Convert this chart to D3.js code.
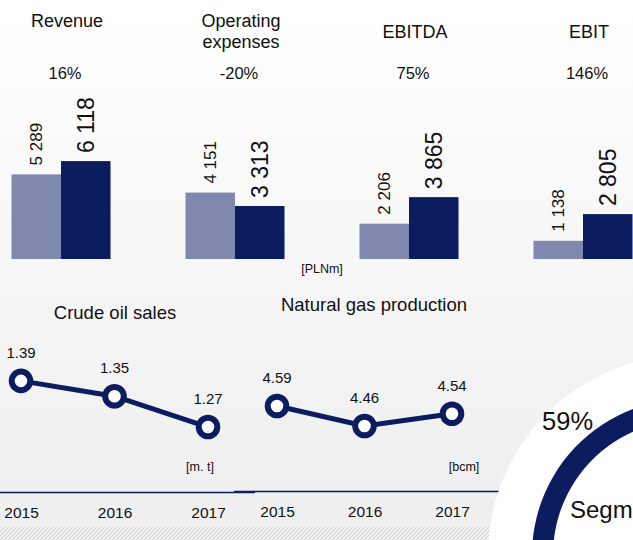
<!DOCTYPE html>
<html>
<head>
<meta charset="utf-8">
<script src="https://cdn.jsdelivr.net/npm/d3@7"></script>
<style>
  body { margin: 0; background: #ffffff; }
  svg { display: block; font-family: "Liberation Sans", Arial, sans-serif; }
</style>
</head>
<body>
<div id="chart"></div>
<script>
// data
const categories = ["Revenue", "Operating expenses", "EBITDA", "EBIT"];
const titleLines = [["Revenue"], ["Operating", "expenses"], ["EBITDA"], ["EBIT"]];
const barYears = ["2016", "2017"];
const values2016 = [5289, 4151, 2206, 1138];
const values2017 = [6118, 3313, 3865, 2805];
const changeLabels = ["16%", "-20%", "75%", "146%"];
const lineYears = ["2015", "2016", "2017"];
const oilSales = [1.39, 1.35, 1.27];
const gasProduction = [4.59, 4.46, 4.54];
const segmentShare = [59, 41];

const W = 633, H = 540;
const navy = "#0b1c5f", light = "#8088ad", textCol = "#111111";

const svg = d3.select("#chart").append("svg")
    .attr("width", W)
    .attr("height", H);

const defs = svg.append("defs");
const grad = defs.append("linearGradient").attr("id", "bg")
    .attr("x1", 0).attr("y1", 0).attr("x2", 0).attr("y2", 1);
grad.append("stop").attr("offset", "0%").attr("stop-color", "#ffffff");
grad.append("stop").attr("offset", "90%").attr("stop-color", "#efefef");
const hatch = defs.append("pattern").attr("id", "hatch")
    .attr("width", 4).attr("height", 4)
    .attr("patternUnits", "userSpaceOnUse");
hatch.append("rect").attr("width", 4).attr("height", 4).attr("fill", "#fafafa");
hatch.append("path").attr("d", "M0,4 L4,0 M-1,1 L1,-1 M3,5 L5,3")
    .attr("stroke", "#cfcfcf").attr("stroke-width", 1.2);

svg.append("rect").attr("width", W).attr("height", H).attr("fill", "url(#bg)");
svg.append("rect").attr("x", 0).attr("y", 527).attr("width", W).attr("height", 13)
    .attr("fill", "url(#hatch)");

// ---------- bar groups ----------
const x0 = d3.scaleBand().domain(categories)
    .range([-26, 670]).paddingInner(0.431).paddingOuter(0.2155);
const x1 = d3.scaleBand().domain(barYears).range([0, x0.bandwidth()]);
const yBar = d3.scaleLinear().domain([0, 10000]).range([259, 99]);
const fmt = d3.formatLocale({ decimal: ".", thousands: " ", grouping: [3], currency: ["", ""] }).format(",");

const barData = categories.map((c, i) => ({
    cat: c,
    titles: titleLines[i],
    change: changeLabels[i],
    vals: [{ year: "2016", v: values2016[i] }, { year: "2017", v: values2017[i] }]
}));
const titleBase = [27, 27, 38, 38];

const groups = svg.selectAll("g.grp").data(barData).enter()
    .append("g").attr("class", "grp")
    .attr("transform", d => `translate(${x0(d.cat)},0)`);

groups.each(function (d, i) {
    const g = d3.select(this);
    const cx = x0.bandwidth() / 2;
    d.titles.forEach((t, k) => {
        g.append("text")
            .attr("x", cx + 6).attr("y", titleBase[i] + k * 21)
            .attr("text-anchor", "middle")
            .attr("font-size", 18).attr("fill", textCol)
            .text(t);
    });
    g.append("text")
        .attr("x", cx + 4).attr("y", 79)
        .attr("text-anchor", "middle")
        .attr("font-size", 16.5).attr("fill", textCol)
        .text(d.change);
});

groups.selectAll("rect").data(d => d.vals).enter()
    .append("rect")
    .attr("x", d => x1(d.year))
    .attr("y", d => yBar(d.v))
    .attr("width", x1.bandwidth())
    .attr("height", d => yBar(0) - yBar(d.v))
    .attr("fill", d => d.year === "2016" ? light : navy);

groups.selectAll("text.val").data(d => d.vals).enter()
    .append("text").attr("class", "val")
    .attr("transform", d => `translate(${x1(d.year) + x1.bandwidth() / 2},${yBar(d.v) - (d.year === "2016" ? 9 : 8)}) rotate(-90)`)
    .attr("dy", "0.36em")
    .attr("font-size", d => d.year === "2016" ? 17 : 23)
    .attr("fill", textCol)
    .text(d => fmt(d.v));

svg.append("text")
    .attr("x", 322).attr("y", 273)
    .attr("text-anchor", "middle")
    .attr("font-size", 12.5).attr("fill", textCol)
    .text("[PLNm]");

// ---------- line charts ----------
const lineCharts = [
    { title: "Crude oil sales", vals: oilSales, unit: "[m. t]",
      x: d3.scalePoint().domain(lineYears).range([21, 208]),
      y: d3.scaleLinear().domain([1.2, 1.4]).range([454, 377]),
      titleX: 115, titleY: 319, unitX: 200, axis: [0, 255], axisY: 492.5 },
    { title: "Natural gas production", vals: gasProduction, unit: "[bcm]",
      x: d3.scalePoint().domain(lineYears).range([277, 452]),
      y: d3.scaleLinear().domain([4.4, 4.6]).range([435.2, 404.5]),
      titleX: 374, titleY: 311, unitX: 464, axis: [234, 500], axisY: 491.5 }
];

lineCharts.forEach(ch => {
    const g = svg.append("g");
    const pts = lineYears.map((yr, i) => ({ yr, v: ch.vals[i] }));

    g.append("text")
        .attr("x", ch.titleX).attr("y", ch.titleY)
        .attr("text-anchor", "middle")
        .attr("font-size", 18.5).attr("fill", textCol)
        .text(ch.title);

    g.append("line")
        .attr("x1", ch.axis[0]).attr("x2", ch.axis[1])
        .attr("y1", ch.axisY).attr("y2", ch.axisY)
        .attr("stroke", navy).attr("stroke-width", 1.6);

    const ax = g.append("g")
        .attr("transform", `translate(0,${ch.axisY})`)
        .call(d3.axisBottom(ch.x).tickSize(0).tickPadding(14));
    ax.select(".domain").remove();
    ax.selectAll("text")
        .attr("font-size", 15.5)
        .attr("font-family", "Liberation Sans, Arial, sans-serif")
        .attr("fill", textCol);

    g.append("path")
        .datum(pts)
        .attr("fill", "none")
        .attr("stroke", navy)
        .attr("stroke-width", 5)
        .attr("d", d3.line().x(d => ch.x(d.yr)).y(d => ch.y(d.v)));

    g.selectAll("circle").data(pts).enter()
        .append("circle")
        .attr("cx", d => ch.x(d.yr))
        .attr("cy", d => ch.y(d.v))
        .attr("r", 9.3)
        .attr("fill", "#ffffff")
        .attr("stroke", navy)
        .attr("stroke-width", 6);

    g.selectAll("text.lbl").data(pts).enter()
        .append("text").attr("class", "lbl")
        .attr("x", d => ch.x(d.yr))
        .attr("y", d => ch.y(d.v) - 23)
        .attr("text-anchor", "middle")
        .attr("font-size", 15).attr("fill", textCol)
        .text(d => d.v.toFixed(2));

    g.append("text")
        .attr("x", ch.unitX).attr("y", 471)
        .attr("text-anchor", "middle")
        .attr("font-size", 12.5).attr("fill", textCol)
        .text(ch.unit);
});

// ---------- segment donut (mostly off-canvas) ----------
const cx = 688, cy = 555;
const donut = svg.append("g").attr("transform", `translate(${cx},${cy})`);
donut.append("circle").attr("r", 200).attr("fill", "#ffffff");

const startA = -2 * Math.PI * segmentShare[0] / 100;
const pie = d3.pie().sort(null).startAngle(startA).endAngle(startA + 2 * Math.PI);
const arc = d3.arc().innerRadius(135).outerRadius(156);
donut.selectAll("path").data(pie(segmentShare)).enter()
    .append("path")
    .attr("d", arc)
    .attr("fill", (d, i) => i === 0 ? navy : light);

const labAngle = -42 * Math.PI / 180, labR = 180;
donut.append("text")
    .attr("x", labR * Math.sin(labAngle))
    .attr("y", -labR * Math.cos(labAngle))
    .attr("dy", "0.35em")
    .attr("text-anchor", "middle")
    .attr("font-size", 25.5).attr("fill", textCol)
    .text(segmentShare[0] + "%");

// the reference itself cuts this label at the right edge
donut.append("text")
    .attr("x", -118).attr("y", -37)
    .attr("font-size", 24).attr("fill", textCol)
    .text("Segment");
</script>
</body>
</html>
